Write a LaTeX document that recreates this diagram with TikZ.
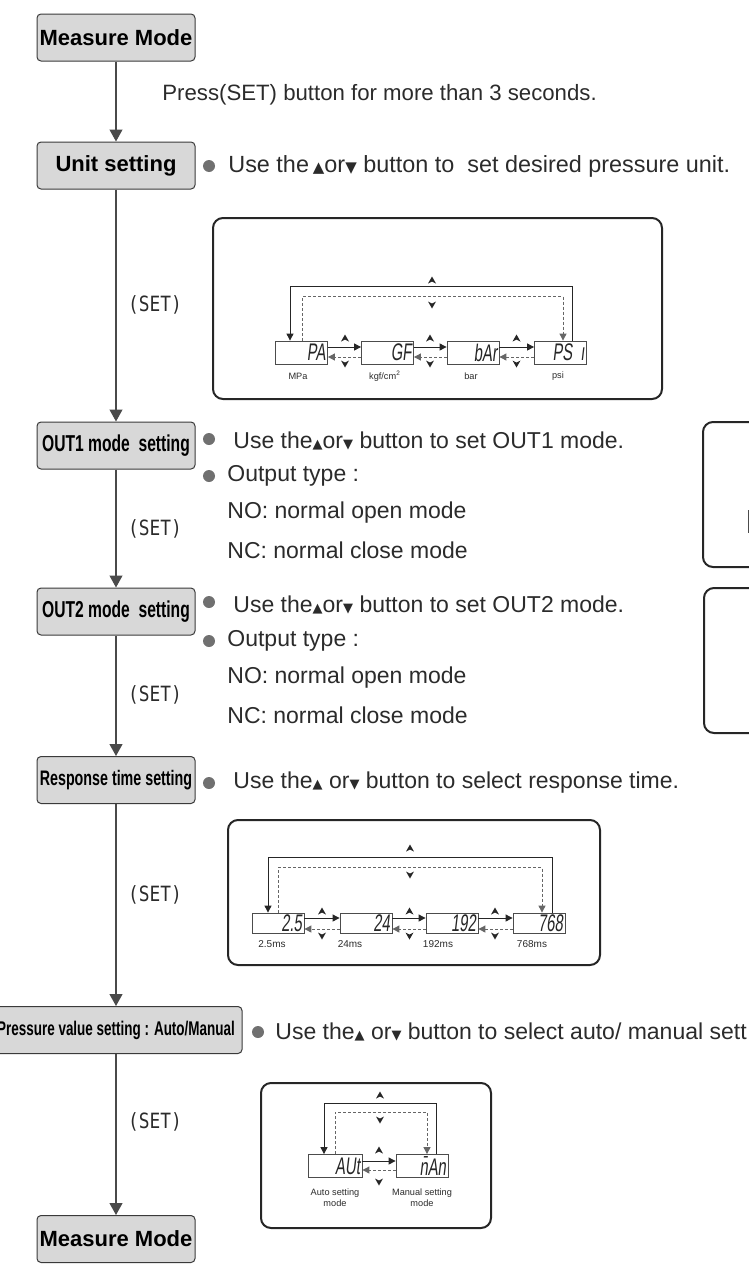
\documentclass[tikz,border=0pt]{standalone}
\usepackage{fontspec}
\setmainfont{Liberation Sans}
\newfontfamily\narrowfont[FakeStretch=0.68]{Liberation Sans}
\newfontfamily\segfont[FakeStretch=0.62,FakeSlant=0.12]{Liberation Sans}
\newfontfamily\symfont{DejaVu Sans}
\newfontfamily\setfont[FakeStretch=0.85]{DejaVu Sans Mono}
\usetikzlibrary{arrows.meta,positioning}
\definecolor{txtgray}{HTML}{2B2B2B}
\definecolor{boxgray}{HTML}{D8D8D8}
\definecolor{boxline}{HTML}{3A3A3A}
\definecolor{flowline}{HTML}{4A4A4A}
\definecolor{dotgray}{HTML}{707070}
\newcommand\upk{{\symfont\fontsize{6.5}{7}\selectfont ▲}}
\newcommand\dnk{{\symfont\fontsize{6.5}{7}\selectfont ▼}}
\tikzset{x=0.5pt, y=-0.5pt,
    stepbox/.style={rectangle, rounded corners=2pt, draw=boxline, line width=0.5pt,
        fill=boxgray, minimum width=79pt, minimum height=23.5pt, inner sep=0pt,
        text=black, font=\fontsize{11}{13}\selectfont\bfseries},
    narrowbox/.style={stepbox, font=\narrowfont\fontsize{11.5}{13}\selectfont\bfseries},
    flow/.style={draw=flowline, line width=0.6pt, -{Triangle[width=6.5pt,length=6pt]}},
    note/.style={anchor=west, inner sep=0pt, text=txtgray, font=\fontsize{11.5}{13.5}\selectfont},
    setlbl/.style={inner sep=0pt, text=txtgray, font=\setfont\fontsize{10.5}{12}\selectfont},
    dot/.style={circle, fill=dotgray, minimum size=6pt, inner sep=0pt},
    panel/.style={draw=black!85, line width=1pt, rounded corners=5pt},
    seg/.style={rectangle, draw=black!70, line width=0.4pt, text width=24pt, align=right,
        inner xsep=1pt, inner ysep=0pt, minimum height=11.5pt, text=black!85,
        font=\segfont\fontsize{12}{12}\selectfont},
    unitlbl/.style={inner sep=0pt, align=center, text=txtgray, font=\fontsize{4.6}{5.4}\selectfont},
    loopsolid/.style={draw=black!85, line width=0.45pt, -{Triangle[width=3.5pt,length=3.5pt]}},
    loopdash/.style={loopsolid, draw=black!60, dash pattern=on 1.5pt off 1pt},
    upmk/.pic={\fill[black!85] (0,-3.5) -- (4,3.5) -- (0,1.5) -- (-4,3.5) -- cycle;},
    dnmk/.pic={\fill[black!85] (0,3.5) -- (4,-3.5) -- (0,-1.5) -- (-4,-3.5) -- cycle;},
    }
\begin{document}
\begin{tikzpicture}
\useasboundingbox (0,0) rectangle (749,1269);
\clip (0,0) rectangle (749,1269);

% main flow
\node[stepbox] (meas1) at (116,37.5) {Measure Mode};
\node[stepbox] (unit) at (116,165.5) {Unit setting};
\node[narrowbox] (out1) at (116,445.5) {OUT1 mode~~setting};
\node[narrowbox] (out2) at (116,611.5) {OUT2 mode~~setting};
\node[narrowbox, font=\narrowfont\fontsize{10.5}{12}\selectfont\bfseries] (resp) at (116,780) {Response time setting};
\node[narrowbox, minimum width=126pt, font=\narrowfont\fontsize{9.9}{12}\selectfont\bfseries] (press) at (116,1030) {Pressure value setting : Auto/Manual};
\node[stepbox] (meas2) at (116,1239) {Measure Mode};

\draw[flow] (meas1) -- (unit);
\draw[flow] (unit) -- (out1);
\draw[flow] (out1) -- (out2);
\draw[flow] (out2) -- (resp);
\draw[flow] (resp) -- (press);
\draw[flow] (press) -- (meas2);

\node[note, font=\fontsize{11.1}{13}\selectfont] (hold) at (162,95) {Press(SET) button for more than 3 seconds.};
\node[setlbl] (set1) at (155,305) {(SET)};
\node[setlbl] (set2) at (155,529) {(SET)};
\node[setlbl] (set3) at (155,695) {(SET)};
\node[setlbl] (set4) at (155,895) {(SET)};
\node[setlbl] (set5) at (155,1122) {(SET)};

% notes
\node[dot] (d1) at (209,166) {};
\node[note, font=\fontsize{11.7}{13.5}\selectfont] (n1) at (228,166) {Use the\,{\symfont\fontsize{7.5}{8}\selectfont ▲}or{\symfont\fontsize{7.5}{8}\selectfont ▼} button to\ \ set desired pressure unit.};
\node[dot] (d2) at (209,439) {};
\node[note] (n2) at (233,441) {Use the\upk{}or\dnk{} button to set OUT1 mode.};
\node[dot] (d3) at (209,476) {};
\node[note] (n3) at (227,476) {Output type\ :};
\node[note] (n4) at (227,513) {NO: normal open mode};
\node[note] (n5) at (227,550) {NC: normal close mode};
\node[dot] (d4) at (209,602) {};
\node[note] (n6) at (233,605) {Use the\upk{}or\dnk{} button to set OUT2 mode.};
\node[dot] (d5) at (209,641) {};
\node[note] (n7) at (227,641) {Output type\ :};
\node[note] (n8) at (227,678) {NO: normal open mode};
\node[note] (n9) at (227,715) {NC: normal close mode};
\node[dot] (d6) at (209,783) {};
\node[note] (n10) at (233,783) {Use the\upk{} or\dnk{} button to select response time.};
\node[dot] (d7) at (258,1032) {};
\node[note] (n11) at (275,1032) {Use the\upk{} or\dnk{} button to select auto/ manual sett};

% unit panel
\draw[panel] (213,218) rectangle (662,399);
\node[seg] (pa) at (301.5,352.5) {PA};
\node[seg] (gf) at (387.5,352.5) {GF};
\node[seg] (bar) at (473,352.5) {bAr};
\node[seg] (psi) at (560.5,352.5) {PS ı};
\draw[loopsolid] ([yshift=2.75pt]pa.east) -- ([yshift=2.75pt]gf.west);
\draw[loopdash] ([yshift=-2.25pt]gf.west) -- ([yshift=-2.25pt]pa.east);
\draw[loopsolid] ([yshift=2.75pt]gf.east) -- ([yshift=2.75pt]bar.west);
\draw[loopdash] ([yshift=-2.25pt]bar.west) -- ([yshift=-2.25pt]gf.east);
\draw[loopsolid] ([yshift=2.75pt]bar.east) -- ([yshift=2.75pt]psi.west);
\draw[loopdash] ([yshift=-2.25pt]psi.west) -- ([yshift=-2.25pt]bar.east);
\draw[loopsolid] ([xshift=5.75pt]psi.north) -- ++(0,-54) -| ([xshift=-5.75pt]pa.north);
\draw[loopdash] ([xshift=0.25pt]pa.north) -- ++(0,-44) -| ([xshift=1.25pt]psi.north);
\pic at (432,280) {upmk};
\pic at (432,305) {dnmk};
\pic at (345,338) {upmk}; \pic at (345,364) {dnmk};
\pic at (430,338) {upmk}; \pic at (430,364) {dnmk};
\pic at (516.5,338) {upmk}; \pic at (516.5,364) {dnmk};
\node[unitlbl] (lmpa) at (298,376) {MPa};
\node[unitlbl] (lkgf) at (385,376) {kgf/cm\textsuperscript{2}};
\node[unitlbl] (lbar) at (471,376) {bar};
\node[unitlbl] (lpsi) at (558,376) {psi};

% response panel
\draw[panel] (228,820) rectangle (600,965);
\node[seg, minimum height=10pt] (t1) at (278,923) {2.5};
\node[seg, minimum height=10pt] (t2) at (366,923) {24};
\node[seg, minimum height=10pt] (t3) at (452,923) {192};
\node[seg, minimum height=10pt] (t4) at (539,923) {768};
\draw[loopsolid] ([yshift=2.5pt]t1.east) -- ([yshift=2.5pt]t2.west);
\draw[loopdash] ([yshift=-3pt]t2.west) -- ([yshift=-3pt]t1.east);
\draw[loopsolid] ([yshift=2.5pt]t2.east) -- ([yshift=2.5pt]t3.west);
\draw[loopdash] ([yshift=-3pt]t3.west) -- ([yshift=-3pt]t2.east);
\draw[loopsolid] ([yshift=2.5pt]t3.east) -- ([yshift=2.5pt]t4.west);
\draw[loopdash] ([yshift=-3pt]t4.west) -- ([yshift=-3pt]t3.east);
\draw[loopsolid] ([xshift=6.5pt]t4.north) -- ++(0,-55) -| ([xshift=-5pt]t1.north);
\draw[loopdash] (t1.north) -- ++(0,-45) -| ([xshift=1.5pt]t4.north);
\pic at (410,848) {upmk};
\pic at (410,875) {dnmk};
\pic at (322,911) {upmk}; \pic at (322,936) {dnmk};
\pic at (409.5,911) {upmk}; \pic at (409.5,936) {dnmk};
\pic at (495,911) {upmk}; \pic at (495,936) {dnmk};
\node[unitlbl, font=\fontsize{5}{6}\selectfont] (l25) at (272,944) {2.5ms};
\node[unitlbl, font=\fontsize{5}{6}\selectfont] (l24) at (350,944) {24ms};
\node[unitlbl, font=\fontsize{5}{6}\selectfont] (l192) at (438,944) {192ms};
\node[unitlbl, font=\fontsize{5}{6}\selectfont] (l768) at (532,944) {768ms};

% auto/manual panel
\draw[panel] (261,1083) rectangle (491,1228);
\node[seg, text width=25pt] (aut) at (335,1166) {AUt};
\node[seg] (man) at (422,1166) {\=nAn};
\draw[loopsolid] ([yshift=2.5pt]aut.east) -- ([yshift=2.5pt]man.west);
\draw[loopdash] ([yshift=-2pt]man.west) -- ([yshift=-2pt]aut.east);
\draw[loopsolid] ([xshift=7pt]man.north) -- ++(0,-51) -| ([xshift=-5.5pt]aut.north);
\draw[loopdash] (aut.north) -- ++(0,-42) -| ([xshift=2.5pt]man.north);
\pic at (380,1095) {upmk};
\pic at (380,1120) {dnmk};
\pic at (379,1150) {upmk}; \pic at (379,1182) {dnmk};
\node[unitlbl] (lauto) at (335,1198) {Auto setting\\mode};
\node[unitlbl] (lman) at (422,1198) {Manual setting\\mode};

% cut-off panels at the right
\draw[panel] (703,422) rectangle (800,567);
\draw[black!70, line width=0.4pt] (748,510) rectangle (800,532);
\draw[panel] (704,588) rectangle (800,733);
\end{tikzpicture}
\end{document}
